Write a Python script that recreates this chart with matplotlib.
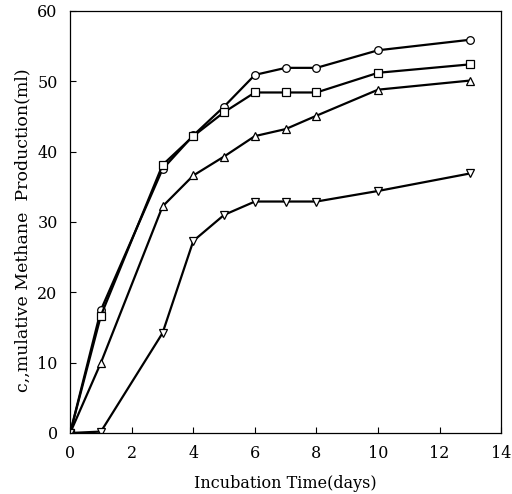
import matplotlib
matplotlib.use('Agg')
import matplotlib.pyplot as plt
import numpy as np

days = [0, 1, 3, 4, 5, 6, 7, 8, 10, 13]
circle = [0, 17.5, 37.5, 42.3, 46.4, 50.9, 51.9, 51.9, 54.4, 55.9]
square = [0, 16.7, 38.1, 42.2, 45.6, 48.4, 48.4, 48.4, 51.2, 52.4]
up_tri = [0, 10.0, 32.2, 36.6, 39.3, 42.2, 43.2, 45.1, 48.8, 50.1]
down_tri = [0, 0.2, 14.2, 27.3, 31.0, 32.9, 32.9, 32.9, 34.4, 36.9]

plt.rcParams['font.family'] = ['DejaVu Serif']

fig = plt.figure(figsize=(5.12, 4.94), dpi=100)
ax = fig.add_axes([0.137, 0.1235, 0.842, 0.8545])

series = [(circle, 'o'), (square, 's'), (up_tri, '^'), (down_tri, 'v')]
for vals, m in series:
    ax.plot(days, vals, color='black', lw=1.6, marker=m, markersize=5.5,
            markerfacecolor='white', markeredgecolor='black', markeredgewidth=0.9)

ax.set_xlim(0, 14)
ax.set_ylim(0, 60)
ax.set_xticks(np.arange(0, 15, 2))
ax.set_yticks(np.arange(0, 61, 10))
ax.tick_params(direction='in', length=4, labelsize=11.5, pad=9)
for s in ax.spines.values():
    s.set_linewidth(0.9)

ax.set_xlabel('Incubation Time(days)', fontsize=11.5, labelpad=9)
ax.set_ylabel('c,,mulative Methane  Production(ml)', fontsize=12.5)
ax.yaxis.set_label_coords(-0.09, 0.48)

fig.savefig('out.png', dpi=100)
